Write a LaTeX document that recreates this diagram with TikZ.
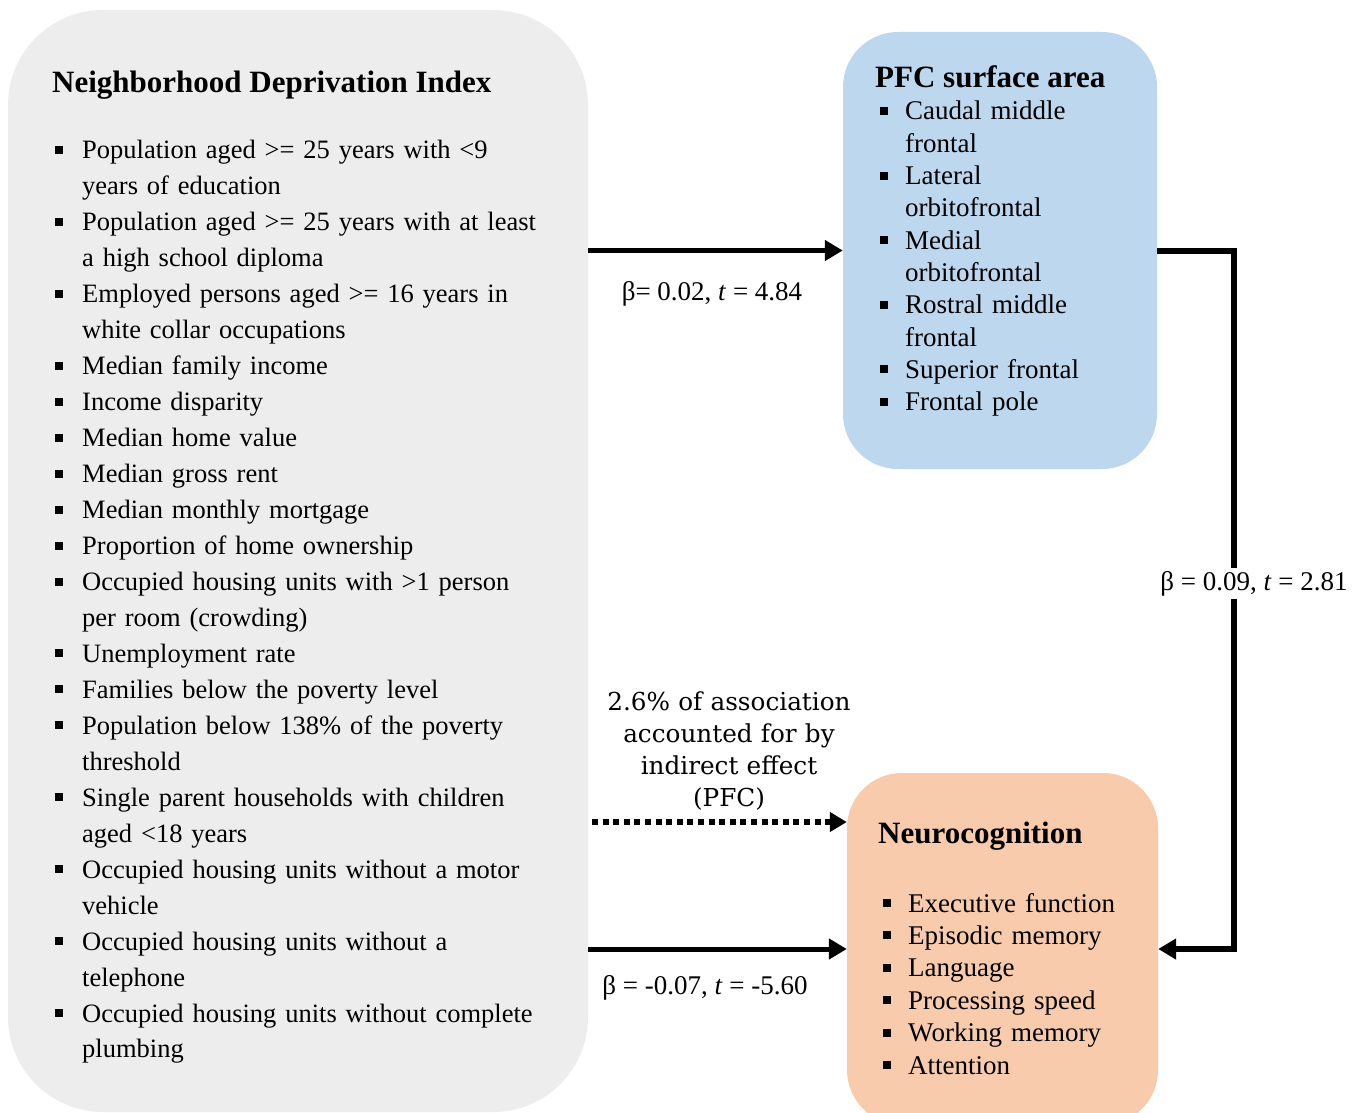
\documentclass[tikz,border=0pt]{standalone}
\usepackage{fontspec}
\setmainfont{Liberation Serif}
\newfontfamily\midfont{DejaVu Serif}
\usetikzlibrary{arrows.meta}
\definecolor{ndigray}{HTML}{EDEDED}
\definecolor{pfcblue}{HTML}{BDD7EE}
\definecolor{neuropeach}{HTML}{F8CBAD}
\newcommand\bitem[2]{\hangindent=#1\hangafter=1\noindent\makebox[#1][l]{\raisebox{5pt}{\rule{8pt}{8pt}}}#2\par}
\begin{document}
\begin{tikzpicture}[x=1pt,y=-1pt,
  boxnode/.style={inner sep=0pt, draw=none},
  titletext/.style={anchor=base west, inner sep=0pt, font=\bfseries\fontsize{31}{36}\selectfont},
  listtext/.style={anchor=base west, inner sep=0pt},
  lbl/.style={anchor=base, inner sep=0pt, font=\fontsize{27}{32}\selectfont},
  solidarrow/.style={line width=5pt, -{Triangle[length=18pt,width=20pt]}},
  dotarrow/.style={line width=6pt, dash pattern=on 6pt off 4.6pt, -{Triangle[length=17pt,width=19pt]}},
  rightconn/.style={line width=6pt, line join=miter, -{Triangle[length=18pt,width=20pt]}}
]
\clip (0,0) rectangle (1363,1113);
\fill[white] (0,0) rectangle (1363,1113);

% boxes
\node[boxnode, fill=ndigray, rounded corners=95pt, minimum width=580pt, minimum height=1102pt] (ndi) at (298,561) {};
\node[boxnode, fill=pfcblue, rounded corners=55pt, minimum width=314pt, minimum height=437pt] (pfc) at (1000,250.5) {};
\node[boxnode, fill=neuropeach, rounded corners=55pt, minimum width=311pt, minimum height=352pt] (neuro) at (1002.5,949) {};

% NDI text
\node[titletext] (ndititle) at (52,93) {Neighborhood Deprivation Index};
\node[listtext, text width=530pt, font=\fontsize{26.5}{35.96}\selectfont] (ndilist) at (55,159) {%
\bitem{27pt}{Population aged >= 25 years with <9\newline years of education}%
\bitem{27pt}{Population aged >= 25 years with at least\newline a high school diploma}%
\bitem{27pt}{Employed persons aged >= 16 years in\newline white collar occupations}%
\bitem{27pt}{Median family income}%
\bitem{27pt}{Income disparity}%
\bitem{27pt}{Median home value}%
\bitem{27pt}{Median gross rent}%
\bitem{27pt}{Median monthly mortgage}%
\bitem{27pt}{Proportion of home ownership}%
\bitem{27pt}{Occupied housing units with >1 person\newline per room (crowding)}%
\bitem{27pt}{Unemployment rate}%
\bitem{27pt}{Families below the poverty level}%
\bitem{27pt}{Population below 138\% of the poverty\newline threshold}%
\bitem{27pt}{Single parent households with children\newline aged <18 years}%
\bitem{27pt}{Occupied housing units without a motor\newline vehicle}%
\bitem{27pt}{Occupied housing units without a\newline telephone}%
\bitem{27pt}{Occupied housing units without complete\newline plumbing}};

% PFC text
\node[titletext] (pfctitle) at (875,88) {PFC surface area};
\node[listtext, text width=270pt, font=\fontsize{27}{32.3}\selectfont] (pfclist) at (880,120) {%
\bitem{25pt}{Caudal middle\newline frontal}%
\bitem{25pt}{Lateral\newline orbitofrontal}%
\bitem{25pt}{Medial\newline orbitofrontal}%
\bitem{25pt}{Rostral middle\newline frontal}%
\bitem{25pt}{Superior frontal}%
\bitem{25pt}{Frontal pole}};

% Neurocognition text
\node[titletext] (neurotitle) at (878,843) {Neurocognition};
\node[listtext, text width=270pt, font=\fontsize{27}{32.4}\selectfont] (neurolist) at (883,912) {%
\bitem{25pt}{Executive function}%
\bitem{25pt}{Episodic memory}%
\bitem{25pt}{Language}%
\bitem{25pt}{Processing speed}%
\bitem{25pt}{Working memory}%
\bitem{25pt}{Attention}};

% connectors
\draw[solidarrow] (pfc.west -| ndi.east) -- (pfc.west);
\draw[solidarrow] (neuro.west -| ndi.east) -- (neuro.west);
\coordinate (dotstart) at (592,822);
\draw[dotarrow] (dotstart) -- (dotstart -| neuro.west);
\draw[rightconn] (pfc.east) -- ++(77,0) |- (neuro.east);

% labels
\node[lbl] (b1) at (712,300) {β= 0.02, \textit{t} = 4.84};
\node[lbl, fill=white, inner sep=3pt] (b2) at (1254,590) {β = 0.09, \textit{t} = 2.81};
\node[lbl] (b3) at (705,994) {β = -0.07, \textit{t} = -5.60};
\node[anchor=base, inner sep=0pt, text width=320pt, align=center, font=\midfont\fontsize{24.7}{32.3}\selectfont] (mid) at (729,710) {2.6\% of association\\accounted for by\\indirect effect\\(PFC)};
\end{tikzpicture}
\end{document}
